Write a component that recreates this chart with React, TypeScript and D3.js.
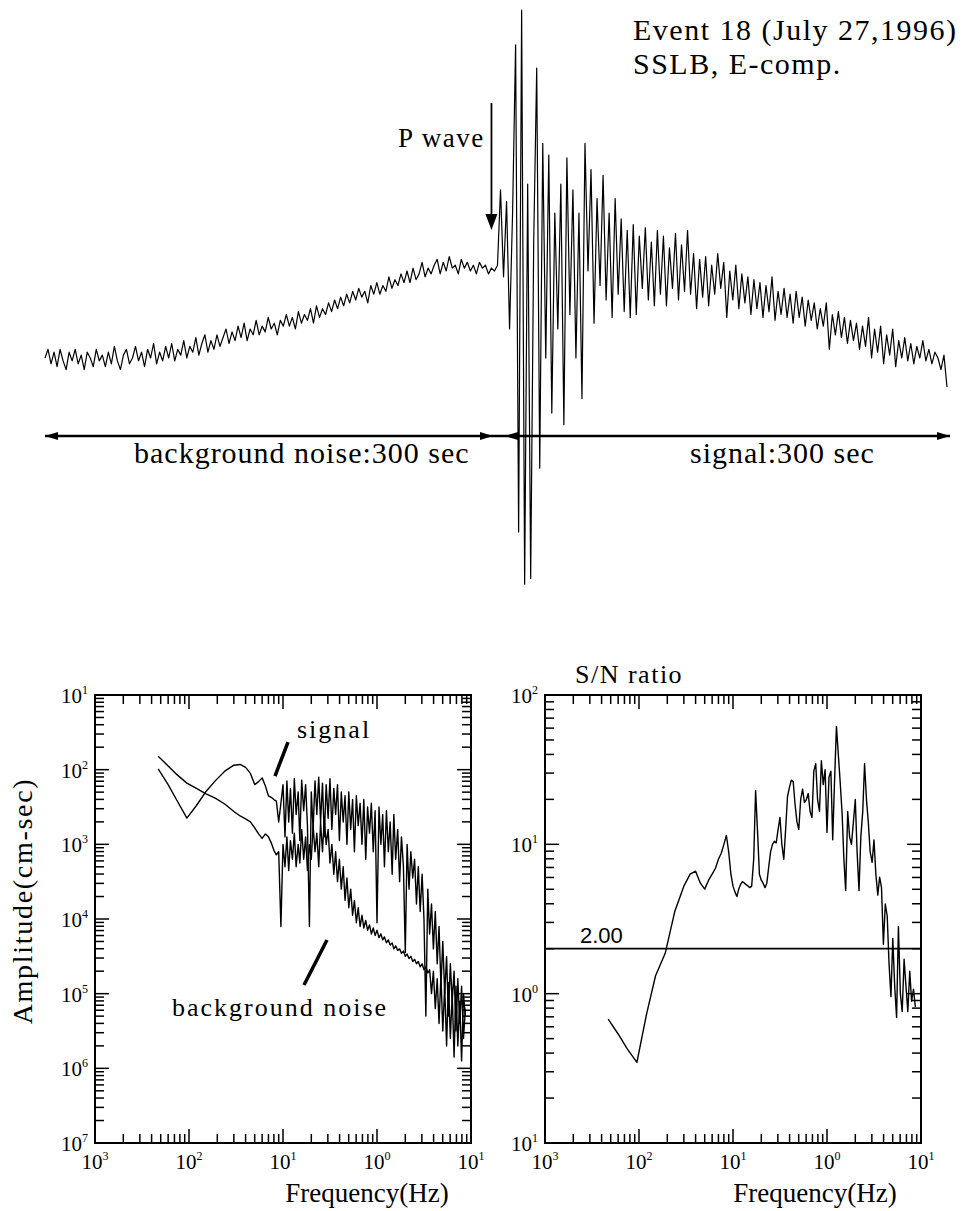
import React from "react";
import * as d3 from "d3";

// ---- seismogram (arbitrary amplitude units, one sample every 2 s) ----
const traceStepSec = 2;
const noiseTrace = [
  -20, -17, -22, -18, -23, -17, -21, -24, -18, -21,
  -17, -22, -19, -24, -18, -20, -23, -17, -21, -19,
  -23, -18, -22, -16, -21, -24, -19, -17, -22, -20,
  -16, -21, -18, -23, -17, -20, -15, -22, -18, -21,
  -16, -20, -15, -21, -17, -19, -14, -20, -16, -18,
  -13, -19, -15, -12, -18, -14, -17, -12, -16, -13,
  -10, -15, -11, -14, -9, -13, -8, -14, -10, -12,
  -7, -12, -9, -11, -6, -10, -8, -12, -7, -9,
  -5, -9, -6, -10, -4, -8, -5, -7, -3, -8,
  -2, -6, -3, -5, -1, -4, 0, -3, 1, -2,
  2, -1, 3, 0, 4, 1, 3, -1, 5, 2,
  6, 2, 5, 3, 8, 4, 7, 5, 9, 6,
  10, 6, 11, 7, 9, 13, 8, 11, 9, 12,
  14, 9, 13, 10, 15, 11, 12, 9, 14, 11,
  13, 10, 12, 9, 13, 11, 12, 9, 11, 10,
];
const signalTrace = [
  12, 38, 8, 34, -10, 30, 88, -80, 100, -98,
  40, -96, 20, 80, -58, 54, -20, 50, -39, 30,
  -10, 40, -43, 49, -5, 38, -20, 30, -34, 54,
  10, 45, -8, 35, 5, 43, 0, 30, -6, 35,
  2, 28, -4, 24, -6, 26, -5, 22, 4, 25,
  0, 20, -2, 24, 2, 22, -2, 18, 4, 23,
  0, 19, 3, 24, 2, 16, -3, 14, 1, 15,
  -2, 12, 2, 16, 4, 13, -6, 10, 0, 12,
  -3, 9, -1, 8, -5, 7, -3, 6, -6, 5,
  -4, 8, -7, 3, -5, 4, -6, 2, -8, 3,
  -6, 1, -9, 0, -7, -1, -10, -3, -9, -1,
  -17, -5, -12, -4, -13, -6, -15, -7, -14, -8,
  -17, -9, -16, -6, -20, -10, -18, -9, -22, -12,
  -19, -10, -23, -14, -20, -13, -21, -15, -22, -16,
  -20, -14, -21, -17, -22, -18, -20, -24, -19, -30,
];

// ---- spectra (shared frequency samples) ----
const freqHz = [
  0.0047, 0.006, 0.0075, 0.0095, 0.012, 0.015, 0.019, 0.024, 0.03, 0.035,
  0.04, 0.045, 0.05, 0.055, 0.06, 0.065, 0.07, 0.075, 0.08, 0.085,
  0.09, 0.095,
  0.1, 0.105, 0.11, 0.115, 0.12, 0.126, 0.132, 0.138, 0.145, 0.151,
  0.158, 0.166, 0.174, 0.182, 0.191, 0.2, 0.209, 0.219, 0.229, 0.24,
  0.251, 0.263, 0.275, 0.288, 0.302, 0.316, 0.331, 0.347, 0.363, 0.38,
  0.398, 0.417, 0.437, 0.457, 0.479, 0.501, 0.525, 0.55, 0.575, 0.603,
  0.631, 0.661, 0.692, 0.724, 0.759, 0.794, 0.832, 0.871, 0.912, 0.955,
  1.0, 1.05, 1.1, 1.15, 1.2, 1.26, 1.32, 1.38, 1.45, 1.51,
  1.58, 1.66, 1.74, 1.82, 1.91, 2.0, 2.09, 2.19, 2.29, 2.4,
  2.51, 2.63, 2.75, 2.88, 3.02, 3.16, 3.31, 3.47, 3.63, 3.8,
  3.98, 4.17, 4.37, 4.57, 4.79, 5.01, 5.25, 5.5, 5.75, 6.03,
  6.31, 6.61, 6.92, 7.24, 7.59, 7.94, 8.32, 8.71,
];
// log10 of amplitude (cm-sec)
const signalLogAmp = [
  -1.99, -2.2, -2.42, -2.65, -2.48, -2.3, -2.15, -2.02, -1.94, -1.93,
  -1.97, -2.05, -2.2, -2.16, -2.11, -2.22, -2.35, -2.37, -2.4, -2.42,
  -2.7, -2.45,
  -2.2, -2.9, -2.15, -2.7, -2.25, -2.85, -2.12, -2.6, -2.3, -2.95,
  -2.14, -2.55, -2.2, -2.75, -4.1, -2.3, -2.8, -2.15, -2.6, -2.1,
  -2.7, -2.18, -2.9, -2.2, -2.65, -2.12, -2.8, -2.25, -2.6, -2.2,
  -2.95, -2.3, -2.7, -2.35, -3.0, -2.3, -2.8, -2.4, -3.1, -2.35,
  -2.75, -2.45, -3.0, -2.4, -3.2, -2.5, -2.85, -2.45, -3.1, -2.55,
  -4.05, -2.5, -3.0, -2.6, -3.3, -2.55, -3.1, -2.7, -3.4, -2.6,
  -3.2, -2.8, -3.5, -2.9, -3.3, -4.45, -3.0, -3.6, -3.1, -3.45,
  -3.2, -3.8, -3.3, -3.9, -3.4, -4.0, -5.3, -3.6, -4.2, -3.8,
  -4.4, -3.9, -4.6, -4.1, -4.9, -4.3, -5.0, -4.5, -5.3, -4.6,
  -5.1, -4.7, -5.5, -4.8, -5.4, -4.9, -5.6, -5.2,
];
const noiseLogAmp = [
  -1.82, -1.95, -2.07, -2.18, -2.25, -2.32, -2.38, -2.46, -2.56, -2.62,
  -2.66, -2.7, -2.78, -2.86, -2.92, -2.86, -2.9, -2.98, -3.08, -3.14,
  -3.1, -4.1,
  -3.0, -3.3, -2.9, -3.35, -2.95, -3.2, -2.85, -3.3, -3.0, -3.25,
  -2.8, -3.2, -2.9, -3.35, -3.0, -3.2, -2.75, -3.1, -2.85, -3.3,
  -2.7, -3.1, -2.65, -3.0, -2.8, -3.25, -3.0, -3.4, -3.1, -3.5,
  -3.2, -3.6, -3.3, -3.75, -3.45, -3.85, -3.6, -3.95, -3.75, -4.05,
  -3.85, -4.1, -3.95, -4.12, -4.02, -4.15, -4.08, -4.2, -4.12, -4.22,
  -4.15, -4.25, -4.2, -4.28, -4.24, -4.32, -4.28, -4.35, -4.32, -4.4,
  -4.36, -4.42, -4.4, -4.46, -4.43, -4.5, -4.47, -4.53, -4.5, -4.57,
  -4.54, -4.6, -4.57, -4.64, -4.6, -4.68, -4.64, -4.72, -4.68, -5.0,
  -4.7, -5.2, -4.8, -5.4, -4.75, -5.5, -4.9, -5.7, -4.85, -5.6,
  -5.0, -5.85, -4.9, -5.7, -5.1, -5.9, -5.0, -5.3,
];
// log10 of S/N ratio
const snLogRatio = [
  -0.17, -0.27, -0.37, -0.46, -0.14, 0.12, 0.27, 0.55, 0.72, 0.8,
  0.82, 0.74, 0.7, 0.76, 0.8, 0.84, 0.9, 0.94, 1.0, 1.06,
  0.95, 0.8,
  0.72, 0.68, 0.65, 0.7, 0.73, 0.75, 0.74, 0.73, 0.72, 0.71,
  0.72, 0.9, 1.36, 1.1, 0.8, 0.76, 0.74, 0.71, 0.74, 0.85,
  0.95, 1.0, 1.02, 1.01, 1.1, 1.18, 1.0, 0.9, 1.1, 1.32,
  1.38, 1.43, 1.42, 1.27, 1.15, 1.1, 1.3, 1.37, 1.28, 1.3,
  1.34, 1.22, 1.18, 1.49, 1.54, 1.3, 1.22, 1.56, 1.4, 1.5,
  1.08, 1.45, 1.49, 1.03, 1.4, 1.79, 1.6, 1.42, 1.2, 0.91,
  0.69, 1.22, 1.05, 1.0, 1.15, 1.3, 0.95, 0.69, 1.05, 1.22,
  1.54, 1.3, 1.15, 0.95, 0.88, 1.03, 0.8, 0.66, 0.78, 0.71,
  0.33, 0.6, 0.52, 0.2, -0.02, 0.37, 0.05, -0.16, 0.45, 0.0,
  -0.12, 0.23, 0.05, -0.12, 0.15, -0.05, 0.03, -0.09,
];

// tick labels (as printed in the figure)
const ampTicks = [1e-1, 1e-2, 1e-3, 1e-4, 1e-5, 1e-6, 1e-7];
const ampTickSup = ["1", "2", "3", "4", "5", "6", "7"];
const freqTicks = [1e-3, 1e-2, 1e-1, 1, 10];
const freqTickSup = ["3", "2", "1", "0", "1"];
const snTicks = [100, 10, 1, 0.1];
const snTickSup = ["2", "1", "0", "1"];
const snThreshold = 2.0;

const SERIF = "'Liberation Serif', 'Times New Roman', serif";
const SANS = "'Liberation Sans', Arial, sans-serif";

const isDecade = (v) => Math.abs(Math.log10(v) - Math.round(Math.log10(v))) < 1e-6;

function TenPow({ x, y, sup, anchor }) {
  return (
    <text x={x} y={y} textAnchor={anchor} fontFamily={SERIF} fontSize={21}>
      10
      <tspan dy={-9} fontSize={12}>
        {sup}
      </tspan>
    </text>
  );
}

function LogFrame({ xs, ys, xLabels, xSup, yLabels, ySup }) {
  const [x0, x1] = xs.range();
  const [yb, yt] = ys.range();
  const major = 14;
  const minor = 9;
  return (
    <g>
      <rect x={x0} y={yt} width={x1 - x0} height={yb - yt} fill="none" stroke="#000" strokeWidth={2} />
      {xs.ticks().map((v, i) => {
        const len = isDecade(v) ? major : minor;
        const x = xs(v);
        return (
          <g key={"x" + i} stroke="#000" strokeWidth={1.5}>
            <line x1={x} x2={x} y1={yb} y2={yb - len} />
            <line x1={x} x2={x} y1={yt} y2={yt + len} />
          </g>
        );
      })}
      {ys.ticks().map((v, i) => {
        const len = isDecade(v) ? major : minor;
        const y = ys(v);
        return (
          <g key={"y" + i} stroke="#000" strokeWidth={1.5}>
            <line x1={x0} x2={x0 + len} y1={y} y2={y} />
            <line x1={x1} x2={x1 - len} y1={y} y2={y} />
          </g>
        );
      })}
      {xLabels.map((v, i) => (
        <TenPow key={"xl" + i} x={xs(v)} y={yb + 26} sup={xSup[i]} anchor="middle" />
      ))}
      {yLabels.map((v, i) => (
        <TenPow key={"yl" + i} x={x0 - 7} y={ys(v) + 8} sup={ySup[i]} anchor="end" />
      ))}
    </g>
  );
}

function Arrowhead({ x, y, dir }) {
  // dir: 1 points right, -1 points left
  return <path d={`M${x},${y} L${x - dir * 13},${y - 4} L${x - dir * 13},${y + 4} Z`} fill="#000" />;
}

export default function App() {
  // top seismogram
  const tScale = d3.scaleLinear().domain([0, 600]).range([45, 950]);
  const aScale = d3.scaleLinear().domain([-100, 100]).range([590, 10]);
  const tracePts = [
    ...noiseTrace.map((a, i) => [i * traceStepSec, a]),
    ...signalTrace.map((a, j) => [300 + j * traceStepSec, a]),
  ];
  const traceLine = d3
    .line()
    .x((d) => tScale(d[0]))
    .y((d) => aScale(d[1]));
  const winY = 436;
  const pX = tScale(296);

  // bottom spectra
  const specX = d3.scaleLog().domain([1e-3, 10]).range([95, 471]);
  const specY = d3.scaleLog().domain([1e-7, 1e-1]).range([1143, 695]);
  const snX = d3.scaleLog().domain([1e-3, 10]).range([545, 921]);
  const snY = d3.scaleLog().domain([0.1, 100]).range([1143, 695]);

  const specLine = d3
    .line()
    .x((d) => specX(d[0]))
    .y((d) => specY(Math.pow(10, d[1])));
  const snLine = d3
    .line()
    .x((d) => snX(d[0]))
    .y((d) => snY(Math.pow(10, d[1])));

  const signalPts = freqHz.map((f, i) => [f, signalLogAmp[i]]);
  const noisePts = freqHz.map((f, i) => [f, noiseLogAmp[i]]);
  const snPts = freqHz.map((f, i) => [f, snLogRatio[i]]);

  return (
    <svg
      width={975}
      height={1211}
      style={{ position: "absolute", left: 0, top: 0, background: "#fff" }}
    >
      <rect width={975} height={1211} fill="#fff" />

      {/* header */}
      <text x={633} y={40} fontFamily={SERIF} fontSize={30} letterSpacing={1.5}>
        Event 18 (July 27,1996)
      </text>
      <text x={633} y={74} fontFamily={SERIF} fontSize={30} letterSpacing={1.5}>
        SSLB, E-comp.
      </text>

      {/* waveform */}
      <path d={traceLine(tracePts)} fill="none" stroke="#000" strokeWidth={1.2} strokeLinejoin="round" />

      {/* P wave arrow */}
      <text x={398} y={147} fontFamily={SERIF} fontSize={27} letterSpacing={1.5}>
        P wave
      </text>
      <line x1={pX} x2={pX} y1={103} y2={218} stroke="#000" strokeWidth={1.8} />
      <path d={`M${pX},230 L${pX - 6},214 L${pX + 6},214 Z`} fill="#000" />

      {/* time windows */}
      <line x1={tScale(0)} x2={tScale(600)} y1={winY} y2={winY} stroke="#000" strokeWidth={2.5} />
      <Arrowhead x={tScale(0)} y={winY} dir={-1} />
      <Arrowhead x={tScale(297)} y={winY} dir={1} />
      <Arrowhead x={tScale(305)} y={winY} dir={-1} />
      <Arrowhead x={tScale(600)} y={winY} dir={1} />
      <text x={134} y={463} fontFamily={SERIF} fontSize={30} letterSpacing={1}>
        background noise:300 sec
      </text>
      <text x={690} y={463} fontFamily={SERIF} fontSize={30} letterSpacing={1}>
        signal:300 sec
      </text>

      {/* amplitude spectra */}
      <LogFrame xs={specX} ys={specY} xLabels={freqTicks} xSup={freqTickSup} yLabels={ampTicks} ySup={ampTickSup} />
      <path d={specLine(noisePts)} fill="none" stroke="#000" strokeWidth={1.4} strokeLinejoin="round" />
      <path d={specLine(signalPts)} fill="none" stroke="#000" strokeWidth={1.4} strokeLinejoin="round" />
      <text x={297} y={738} fontFamily={SERIF} fontSize={26} letterSpacing={2}>
        signal
      </text>
      <line x1={288} y1={742} x2={275} y2={776} stroke="#000" strokeWidth={3.5} />
      <text x={172} y={1016} fontFamily={SERIF} fontSize={26} letterSpacing={2}>
        background noise
      </text>
      <line x1={327} y1={940} x2={304} y2={985} stroke="#000" strokeWidth={3.5} />
      <text
        transform="translate(32,901) rotate(-90)"
        textAnchor="middle"
        fontFamily={SERIF}
        fontSize={28}
        letterSpacing={1.7}
      >
        Amplitude(cm-sec)
      </text>
      <text x={367} y={1202} textAnchor="middle" fontFamily={SERIF} fontSize={27}>
        Frequency(Hz)
      </text>

      {/* S/N ratio */}
      <text x={575} y={683} fontFamily={SERIF} fontSize={26} letterSpacing={1.5}>
        S/N ratio
      </text>
      <LogFrame xs={snX} ys={snY} xLabels={freqTicks} xSup={freqTickSup} yLabels={snTicks} ySup={snTickSup} />
      <line x1={545} x2={921} y1={snY(snThreshold)} y2={snY(snThreshold)} stroke="#000" strokeWidth={1.8} />
      <text x={580} y={snY(snThreshold) - 6} fontFamily={SANS} fontSize={22}>
        {snThreshold.toFixed(2)}
      </text>
      <path d={snLine(snPts)} fill="none" stroke="#000" strokeWidth={1.4} strokeLinejoin="round" />
      <text x={815} y={1202} textAnchor="middle" fontFamily={SERIF} fontSize={27}>
        Frequency(Hz)
      </text>
    </svg>
  );
}
